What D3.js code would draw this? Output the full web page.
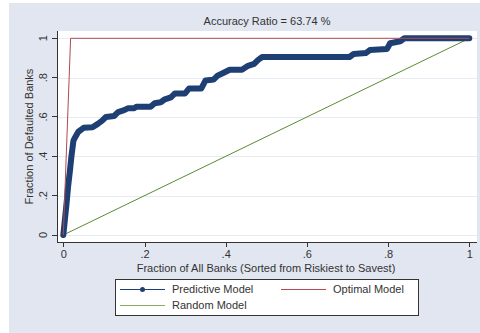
<!DOCTYPE html>
<html>
<head>
  <meta charset="utf-8">
  <title>CAP curve</title>
  <style>
    body { margin: 0; background: #fff; }
    svg text { font-family: "Liberation Sans", Arial, sans-serif; fill: #333; }
    .axis path, .axis line { fill: none; stroke: #333; shape-rendering: crispEdges; }
    .axis text { font-size: 11px; }
    .grid line { stroke: #e6eaf2; shape-rendering: crispEdges; }
  </style>
</head>
<body>
<script src="https://d3js.org/d3.v7.min.js"></script>
<script>
  var width = 480, height = 333;

  // data
  var predX = [0, 0.004, 0.008, 0.012, 0.0165, 0.02, 0.025, 0.03, 0.037, 0.05, 0.072, 0.085, 0.095, 0.105, 0.125, 0.135, 0.15, 0.16, 0.175, 0.18, 0.215, 0.225, 0.24, 0.25, 0.265, 0.275, 0.30, 0.31, 0.34, 0.35, 0.37, 0.38, 0.39, 0.41, 0.44, 0.455, 0.47, 0.48, 0.49, 0.705, 0.715, 0.745, 0.755, 0.797, 0.805, 0.83, 0.84, 1];
  var predY = [0, 0.08, 0.16, 0.25, 0.33, 0.40, 0.48, 0.50, 0.525, 0.545, 0.548, 0.565, 0.58, 0.60, 0.605, 0.625, 0.635, 0.645, 0.645, 0.652, 0.652, 0.67, 0.675, 0.69, 0.70, 0.72, 0.72, 0.745, 0.745, 0.785, 0.79, 0.81, 0.82, 0.84, 0.84, 0.86, 0.87, 0.89, 0.905, 0.905, 0.92, 0.925, 0.94, 0.945, 0.975, 0.985, 1.0, 1.0];
  var optX = [0, 0.018, 1];
  var optY = [0, 1, 1];
  var randX = [0, 1];
  var randY = [0, 1];
  var xTicks = [0, 0.2, 0.4, 0.6, 0.8, 1];
  var yTicks = [0, 0.2, 0.4, 0.6, 0.8, 1];
  var tickLabel = function(d) { return d === 0 ? '0' : d === 1 ? '1' : String(d).replace(/^0/, ''); };

  var svg = d3.select('body').append('svg')
    .attr('width', width).attr('height', height);

  svg.append('rect').attr('x', 9).attr('y', 3)
    .attr('width', width - 9).attr('height', height - 3)
    .attr('fill', '#e1e6f0');

  var plot = {left: 57, right: 477, top: 31, bottom: 242};

  svg.append('rect').attr('x', plot.left).attr('y', plot.top)
    .attr('width', plot.right - plot.left).attr('height', plot.bottom - plot.top)
    .attr('fill', '#fff');

  var xScale = d3.scaleLinear().domain([0, 1]).range([63.3, 469.3]);
  var yScale = d3.scaleLinear().domain([0, 1]).range([235, 38.3]);

  // grid
  svg.append('g').attr('class', 'grid').selectAll('line')
    .data(yTicks).enter().append('line')
    .attr('x1', plot.left).attr('x2', plot.right)
    .attr('y1', function(d) { return Math.round(yScale(d)) + 0.5; })
    .attr('y2', function(d) { return Math.round(yScale(d)) + 0.5; });

  // lines
  var line = d3.line()
    .x(function(d) { return xScale(d[0]); })
    .y(function(d) { return yScale(d[1]); });

  svg.append('path').datum(d3.zip(randX, randY))
    .attr('d', line).attr('fill', 'none')
    .attr('stroke', '#5b8a32').attr('stroke-width', 1);

  svg.append('path').datum(d3.zip(predX, predY))
    .attr('d', line)
    .attr('fill', 'none')
    .attr('stroke', '#1e3f74').attr('stroke-width', 6)
    .attr('stroke-linejoin', 'round').attr('stroke-linecap', 'round');

  svg.append('path').datum(d3.zip(optX, optY))
    .attr('d', line).attr('fill', 'none')
    .attr('stroke', '#b04a4e').attr('stroke-width', 1);

  // axes
  var yAxis = d3.axisLeft(yScale).tickValues(yTicks).tickFormat(tickLabel).tickSize(5).tickPadding(3);
  var yAxisG = svg.append('g').attr('class', 'axis')
    .attr('transform', 'translate(' + plot.left + ',0)')
    .call(yAxis);
  yAxisG.select('.domain').attr('d', 'M0.5,' + plot.top + 'V' + plot.bottom);
  yAxisG.selectAll('.tick').attr('transform', null);
  yAxisG.selectAll('.tick line')
    .attr('y1', function(d) { return yScale(d); })
    .attr('y2', function(d) { return yScale(d); });
  yAxisG.selectAll('text')
    .attr('x', -14).attr('y', yScale)
    .attr('dy', '0.32em')
    .attr('text-anchor', 'middle')
    .attr('transform', function(d) { return 'rotate(-90,-14,' + yScale(d) + ')'; });

  var xAxis = d3.axisBottom(xScale).tickValues(xTicks).tickFormat(tickLabel).tickSize(5).tickPadding(3);
  var xAxisG = svg.append('g').attr('class', 'axis')
    .attr('transform', 'translate(0,' + plot.bottom + ')')
    .call(xAxis);
  xAxisG.select('.domain').attr('d', 'M' + plot.left + ',0.5H' + plot.right);

  // titles
  svg.append('text').attr('x', 267).attr('y', 25)
    .attr('text-anchor', 'middle').style('font-size', '11px')
    .text('Accuracy Ratio = 63.74 %');

  svg.append('text').attr('x', 266).attr('y', 272)
    .attr('text-anchor', 'middle').style('font-size', '11px')
    .text('Fraction of All Banks (Sorted from Riskiest to Savest)');

  svg.append('text')
    .attr('transform', 'translate(33,' + ((plot.top + plot.bottom) / 2) + ') rotate(-90)')
    .attr('text-anchor', 'middle').style('font-size', '11px')
    .text('Fraction of Defaulted Banks');

  // legend
  var legend = svg.append('g');
  legend.append('rect').attr('x', 115.5).attr('y', 279.5)
    .attr('width', 303).attr('height', 36)
    .attr('fill', '#fff').attr('stroke', '#333');

  var items = [
    {name: 'Predictive Model', color: '#1e3f74', x: 120, y: 289, dot: true},
    {name: 'Optimal Model', color: '#b04a4e', x: 281, y: 289, dot: false},
    {name: 'Random Model', color: '#8aac5e', x: 120, y: 305, dot: false}
  ];
  items.forEach(function(it) {
    legend.append('line').attr('x1', it.x).attr('x2', it.x + 45)
      .attr('y1', it.y + 0.5).attr('y2', it.y + 0.5)
      .attr('stroke', it.color).attr('stroke-width', 1);
    if (it.dot) {
      legend.append('circle').attr('cx', it.x + 22.5).attr('cy', it.y + 0.5)
        .attr('r', 2.5).attr('fill', it.color);
    }
    legend.append('text').attr('x', it.x + 52).attr('y', it.y + 4)
      .style('font-size', '11px').text(it.name);
  });
</script>
</body>
</html>
